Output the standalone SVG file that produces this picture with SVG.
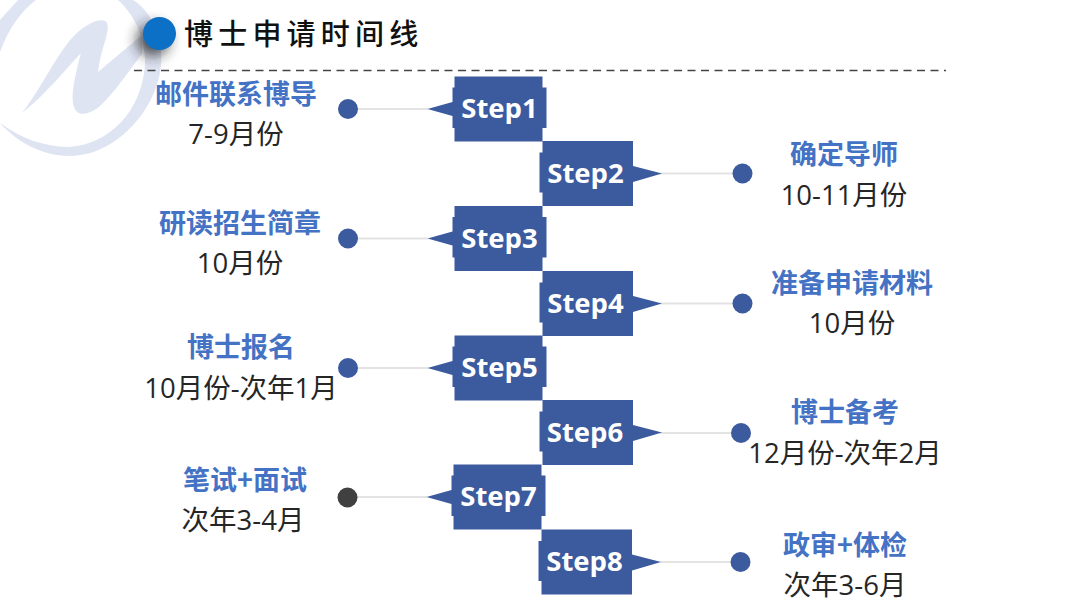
<svg xmlns="http://www.w3.org/2000/svg" width="1080" height="606" viewBox="0 0 1080 606">
<style>
.h{font-family:"Noto Sans CJK SC","Noto Sans",sans-serif;font-size:27px;font-weight:700;fill:#4472c4;text-anchor:middle}
.d{font-family:"Open Sans","Noto Sans CJK SC",sans-serif;font-size:27.500px;fill:#262626;text-anchor:middle}
.s{font-family:"Open Sans","Noto Sans",sans-serif;font-size:27.500px;font-weight:700;fill:#fff;text-anchor:middle}
.b{fill:#3c5a9e}
.l{stroke:#e3e3e3;stroke-width:2;fill:none}
.t{font-family:"Noto Sans CJK SC",sans-serif;font-size:29px;font-weight:500;fill:#111;letter-spacing:5.200px}
</style>
<defs>
<filter id="sh" x="-100%" y="-100%" width="300%" height="300%"><feGaussianBlur stdDeviation="7"/></filter>
<path id="L" class="b" d="M454.500 -32.500H542.500V-21.500H546.500V19H542.500V32.500H454.500V19H452.500V7L427.500 0L452.500 -7V-21.500H454.500Z"/>
<path id="R" class="b" d="M542.500 -32.500H633V-7.500L662 0L633 8.500V32.500H542.500V19H539.500V-21H542.500Z"/>
</defs>
<g id="logo" fill="#dfe4f3">
<path d="M118 0H133C146 8 156 22 161 50C166 100 120 156 70 156C40 156 15 140 0 123C20 138 45 147 68 147C110 145 142 110 145 65C146 40 135 15 118 0Z"/>
<path d="M0 20L18 0H36C20 12 8 30 0 52Z"/>
<path d="M22 113C42 88 58 50 78 32C88 23 100 18 105 21C109 23 108 30 106 38C102 50 99 62 98 72L142 35V54C128 72 115 92 100 106C92 113 82 116 77 112C71 106 72 92 75 78C77 68 79 60 81 53C65 70 45 95 22 113Z"/>
</g>
<g id="title">
<circle cx="153" cy="40" r="16" fill="#222" opacity=".8" filter="url(#sh)"/>
<circle cx="159.500" cy="33.500" r="16.500" fill="#0b70c6"/>
<text class="t" x="184" y="45">博士申请时间线</text>
</g>
<g id="connectors">
<line x1="134" y1="70.500" x2="946" y2="70.500" stroke="#444" stroke-width="1.500" stroke-dasharray="8 5.500"/>
<line class="l" x1="348" y1="109" x2="428" y2="109"/>
<line class="l" x1="660" y1="173.500" x2="742" y2="173.500"/>
<line class="l" x1="348" y1="238.500" x2="428" y2="238.500"/>
<line class="l" x1="660" y1="303.500" x2="742" y2="303.500"/>
<line class="l" x1="348" y1="368" x2="428" y2="368"/>
<line class="l" x1="660" y1="433" x2="741" y2="433"/>
<line class="l" x1="347" y1="497" x2="427" y2="497"/>
<line class="l" x1="660" y1="562" x2="741" y2="562"/>
</g>
<g id="step1"><use href="#L" y="109"/><text class="s" x="499.500" y="118">Step1</text><circle class="b" cx="348" cy="109" r="10"/><text class="h" x="236" y="104">邮件联系博导</text><text class="d" x="236" y="144">7-9月份</text></g>
<g id="step2"><use href="#R" y="173.500"/><text class="s" x="585.500" y="183">Step2</text><circle class="b" cx="742.500" cy="173.500" r="10"/><text class="h" x="844" y="164">确定导师</text><text class="d" x="844" y="205">10-11月份</text></g>
<g id="step3"><use href="#L" y="238.500"/><text class="s" x="499.500" y="247.500">Step3</text><circle class="b" cx="348" cy="238.500" r="10"/><text class="h" x="240" y="233">研读招生简章</text><text class="d" x="240" y="273">10月份</text></g>
<g id="step4"><use href="#R" y="303.500"/><text class="s" x="585.500" y="312.500">Step4</text><circle class="b" cx="742.500" cy="303.500" r="10"/><text class="h" x="852" y="293">准备申请材料</text><text class="d" x="852" y="333">10月份</text></g>
<g id="step5"><use href="#L" y="368"/><text class="s" x="499.500" y="377">Step5</text><circle class="b" cx="348" cy="368" r="10"/><text class="h" x="241" y="357">博士报名</text><text class="d" x="241" y="398">10月份-次年1月</text></g>
<g id="step6"><use href="#R" y="432.500"/><text class="s" x="585" y="442">Step6</text><circle class="b" cx="741" cy="433" r="10"/><text class="h" x="845" y="422">博士备考</text><text class="d" x="845" y="463">12月份-次年2月</text></g>
<g id="step7"><use href="#L" y="497" x="-1"/><text class="s" x="498.500" y="506">Step7</text><circle cx="347.500" cy="497.500" r="10" fill="#404040"/><text class="h" x="245" y="490">笔试+面试</text><text class="d" x="243" y="530">次年3-4月</text></g>
<g id="step8"><use href="#R" y="562" x="-1"/><text class="s" x="584.500" y="571">Step8</text><circle class="b" cx="740.500" cy="562" r="10"/><text class="h" x="845" y="555">政审+体检</text><text class="d" x="845" y="595">次年3-6月</text></g>
</svg>
